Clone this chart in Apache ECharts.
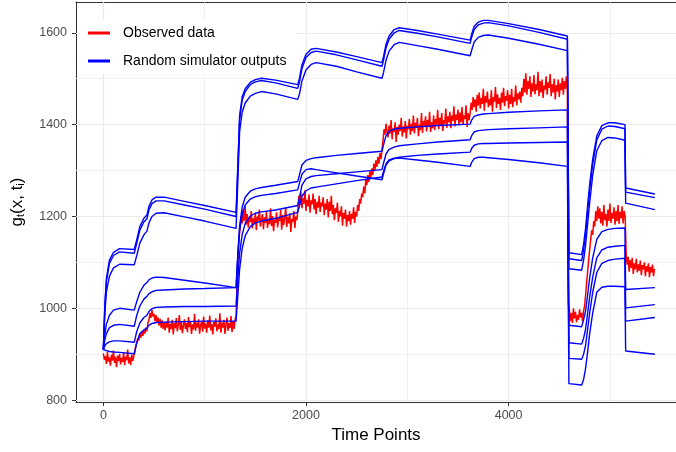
<!DOCTYPE html>
<html>
<head>
<meta charset="utf-8">
<script src="https://cdn.jsdelivr.net/npm/echarts@6/dist/echarts.min.js"></script>
<style>
  html, body { margin: 0; padding: 0; background: #fff; }
  #chart { width: 676px; height: 452px; }
</style>
</head>
<body>
<div id="chart"></div>
<script>
// observed data, one value every 10 time points from t = 0
const obsStep = 10
const obsValues = [
  902, 888, 896, 879, 905, 884, 893, 875, 899, 886, 908, 881, 894, 872, 897, 885,
  901, 878, 892, 883, 904, 876, 895, 887, 910, 880, 893, 877, 899, 885, 896,
  905, 918, 926, 935, 930, 944, 936, 949, 940, 953, 945, 958, 950, 968, 975,
  990, 979, 996, 982, 988, 972, 985, 968, 980, 962, 977, 958, 974, 955, 970,
  952, 971, 958, 980, 947, 966, 955, 975, 943, 968,
  957, 979, 950, 964, 985, 953, 970, 946, 962, 976,
  955, 968, 948, 981, 959, 972, 944, 965, 954, 988,
  951, 969, 958, 976, 945, 963, 971, 949, 982, 956,
  967, 947, 974, 958, 984, 952, 966, 943, 970, 960,
  978, 950, 965, 955, 989, 947, 969, 958, 975, 944,
  963, 980, 951, 968, 957, 983, 948, 972, 955, 975,
  985, 1060, 1120, 1155, 1175, 1200, 1185, 1215, 1190, 1222,
  1182, 1205, 1176, 1198, 1188, 1212, 1174, 1196, 1185, 1208,
  1170, 1200, 1191, 1215, 1178, 1193, 1205, 1172, 1198, 1186,
  1210, 1175, 1195, 1183, 1218, 1179, 1201, 1168, 1193, 1186,
  1209, 1176, 1197, 1190, 1214, 1171, 1203, 1181, 1196, 1220,
  1177, 1199, 1185, 1207, 1166, 1195, 1188, 1212, 1175, 1200, 1192,
  1215, 1245, 1225, 1252, 1218, 1240, 1228, 1257, 1212, 1236,
  1222, 1248, 1208, 1235, 1226, 1250, 1215, 1238, 1205, 1232,
  1219, 1245, 1210, 1230, 1222, 1242, 1203, 1228, 1215, 1238,
  1198, 1232, 1212, 1245, 1205, 1225, 1192, 1218, 1208, 1230,
  1188, 1212, 1200, 1222, 1180, 1208, 1195, 1215, 1178, 1203,
  1190, 1212, 1182, 1206, 1195, 1220, 1186, 1210, 1200, 1225,
  1212, 1238, 1228, 1250, 1242, 1265, 1250, 1280, 1268, 1290,
  1275, 1298, 1285, 1305, 1290, 1315, 1300, 1322, 1308, 1330,
  1315, 1338, 1325, 1345, 1365, 1390, 1378, 1402, 1385,
  1372, 1398, 1380, 1410, 1368, 1392, 1384, 1405, 1362, 1395,
  1378, 1400, 1386, 1415, 1374, 1396, 1383, 1408, 1370, 1398,
  1390, 1412, 1378, 1402, 1386, 1420, 1381, 1404, 1393, 1415,
  1375, 1400, 1388, 1425, 1382, 1408, 1396, 1418, 1385, 1410,
  1395, 1428, 1384, 1405, 1392, 1420, 1388, 1412, 1400, 1432,
  1390, 1415, 1398, 1425, 1386, 1410, 1402, 1435, 1393, 1418,
  1405, 1428, 1392, 1420, 1408, 1440, 1396, 1422, 1410, 1433,
  1398, 1426, 1405, 1438, 1400, 1420, 1412, 1442, 1395, 1425, 1410,
  1425, 1448, 1432, 1460, 1438, 1455, 1428, 1465, 1442, 1470,
  1435, 1458, 1445, 1478, 1430, 1462, 1448, 1472, 1438, 1455,
  1442, 1475, 1428, 1460, 1450, 1482, 1436, 1466, 1445, 1458,
  1432, 1470, 1448, 1480, 1440, 1462, 1452, 1475, 1435, 1465,
  1445, 1478, 1438, 1460, 1450, 1485, 1442, 1468, 1455, 1472,
  1448, 1480, 1462, 1500, 1470, 1512, 1465, 1495, 1478, 1505,
  1460, 1490, 1472, 1508, 1466, 1488, 1475, 1515, 1462, 1495,
  1470, 1498, 1458, 1485, 1476, 1505, 1465, 1492, 1480, 1510,
  1462, 1488, 1470, 1500, 1455, 1486, 1472, 1498, 1460, 1490,
  1475, 1502, 1465, 1495, 1478, 1505, 1470,
  1010, 995, 972, 990, 968, 1000, 978, 992, 970, 985, 975, 998, 980, 990, 972, 995, 1005,
  1030, 1055, 1080, 1105, 1128, 1150, 1170, 1160, 1190, 1178, 1212, 1190, 1222, 1195,
  1218, 1185, 1210, 1180, 1225, 1192, 1205, 1178, 1215, 1190,
  1228, 1186, 1208, 1195, 1220, 1182, 1212, 1190, 1225, 1184,
  1210, 1196, 1222, 1185, 1212, 1200,
  1120, 1095, 1112, 1080, 1105, 1088, 1110, 1075, 1098, 1085, 1108, 1078, 1096, 1082, 1104,
  1072, 1094, 1085, 1100, 1070, 1092, 1080, 1098, 1068, 1090, 1078, 1095, 1070, 1086
]

// simulator runs share one time grid
const simTimes = [
  0, 15, 30, 60, 100, 160, 305,
  330, 360, 400, 430, 450, 480, 520, 600, 800, 1000, 1310,
  1325, 1345, 1370, 1400, 1450, 1500, 1560, 1700, 1918,
  1935, 1960, 2000, 2050, 2100, 2300, 2500, 2750,
  2765, 2790, 2820, 2870, 2920, 3100, 3300, 3620,
  3635, 3660, 3700, 3750, 3800, 4000, 4300, 4580,
  4595, 4721,
  4740, 4760, 4780, 4800, 4830, 4870, 4920, 4980, 5050, 5148,
  5155, 5443
]
const simRun1 = [
  910, 1010, 1065, 1105, 1122, 1130, 1128,
  1150, 1178, 1196, 1203, 1222, 1236, 1242, 1242, 1233, 1224, 1209,
  1300, 1420, 1460, 1478, 1492, 1498, 1501, 1497, 1487,
  1500, 1530, 1553, 1564, 1566, 1558, 1548, 1535,
  1548, 1575, 1593, 1607, 1611, 1605, 1597, 1584,
  1597, 1614, 1623, 1627, 1627, 1620, 1607, 1593,
  1121, 1117,
  1140, 1175, 1225, 1270, 1325, 1375, 1398, 1404, 1404, 1400,
  1262, 1249
]
const simRun2 = [
  910, 1005, 1058, 1098, 1115, 1123, 1120,
  1142, 1170, 1188, 1195, 1214, 1228, 1234, 1234, 1225, 1216, 1200,
  1290, 1412, 1453, 1472, 1487, 1493, 1496, 1491, 1479,
  1492, 1522, 1546, 1557, 1560, 1552, 1541, 1527,
  1540, 1567, 1586, 1600, 1605, 1599, 1591, 1577,
  1590, 1607, 1617, 1621, 1622, 1615, 1601, 1586,
  1108, 1104,
  1127, 1162, 1212, 1258, 1314, 1366, 1390, 1397, 1396, 1391,
  1253, 1241
]
const simRun3 = [
  910, 990, 1035, 1070, 1088, 1096, 1095,
  1115, 1142, 1160, 1168, 1186, 1200, 1207, 1208, 1199, 1190, 1174,
  1262, 1385, 1427, 1447, 1462, 1468, 1472, 1467, 1455,
  1466, 1495, 1519, 1531, 1535, 1527, 1515, 1501,
  1513, 1540, 1560, 1574, 1579, 1572, 1564, 1550,
  1562, 1580, 1590, 1594, 1595, 1588, 1575, 1561,
  1086, 1083,
  1105, 1138, 1185, 1230, 1290, 1343, 1365, 1372, 1371, 1366,
  1229, 1215
]
const simRun4 = [
  910, 932, 945, 958, 963, 965, 961,
  985, 1005, 1020, 1026, 1032, 1036, 1039, 1040, 1042, 1043, 1045,
  1110, 1180, 1220, 1242, 1255, 1260, 1263, 1268, 1276,
  1290, 1312, 1322, 1326, 1328, 1333, 1337, 1342,
  1356, 1376, 1386, 1390, 1392, 1395, 1398, 1401,
  1410, 1418, 1421, 1423, 1424, 1427, 1430, 1432,
  963, 960,
  975, 995, 1030, 1066, 1110, 1150, 1167, 1172, 1174, 1175,
  1041, 1045
]
const simRun5 = [
  910, 945, 965, 985, 996, 1000, 996,
  1015, 1035, 1050, 1056, 1062, 1066, 1068, 1067, 1061, 1055, 1045,
  1105, 1170, 1205, 1225, 1238, 1243, 1246, 1250, 1258,
  1272, 1292, 1302, 1304, 1302, 1295, 1288, 1280,
  1293, 1312, 1321, 1326, 1327, 1323, 1318, 1309,
  1318, 1326, 1329, 1329, 1328, 1324, 1317, 1309,
  836, 833,
  845, 870, 905, 945, 990, 1035, 1046, 1048, 1048, 1047,
  907, 900
]
const simRun6 = [
  910, 918, 923, 927, 929, 929, 926,
  950, 968, 980, 985, 993, 999, 1002, 1003, 1004, 1004, 1005,
  1060, 1120, 1160, 1185, 1201, 1207, 1210, 1214, 1224,
  1240, 1268, 1282, 1287, 1289, 1293, 1297, 1302,
  1316, 1336, 1346, 1351, 1354, 1358, 1362, 1367,
  1376, 1384, 1387, 1388, 1389, 1391, 1393, 1395,
  925, 922,
  935, 955, 990, 1025, 1068, 1110, 1127, 1133, 1135, 1137,
  1001, 1008
]
const simRun7 = [
  910, 909, 908, 906, 905, 904, 901,
  925, 945, 953, 957, 963, 967, 969, 970, 971, 972, 972,
  1020, 1085, 1130, 1158, 1178, 1186, 1190, 1196, 1209,
  1222, 1244, 1256, 1262, 1264, 1271, 1278, 1286,
  1298, 1315, 1323, 1327, 1329, 1333, 1336, 1340,
  1348, 1355, 1358, 1359, 1359, 1360, 1361, 1362,
  891, 889,
  900, 920, 955, 990, 1035, 1078, 1098, 1104, 1107, 1109,
  972, 980
]
const simRuns = [simRun1, simRun2, simRun3, simRun4, simRun5, simRun6, simRun7]

// axis breaks
const xTicks = [0, 2000, 4000]
const xMinor = [1000, 3000, 5000]
const yTicks = [800, 1000, 1200, 1400, 1600]
const yMinor = [900, 1100, 1300, 1500]

const font = '"Liberation Sans", Arial, sans-serif'

const chart = echarts.init(document.getElementById('chart'))

const obsData = obsValues.map((v, i) => [i * obsStep, v])

const gridLines = [
  ...xMinor.map(v => ({ xAxis: v, lineStyle: { width: 0.7 } })),
  ...yMinor.map(v => ({ yAxis: v, lineStyle: { width: 0.7 } })),
  ...xTicks.map(v => ({ xAxis: v, lineStyle: { width: 1.2 } })),
  ...yTicks.map(v => ({ yAxis: v, lineStyle: { width: 1.2 } }))
]

const series = [{
  name: 'Observed data',
  type: 'line',
  data: obsData,
  symbol: 'none',
  lineStyle: { color: '#ff0000', width: 1.5 },
  itemStyle: { color: '#ff0000' },
  z: 2,
  markLine: {
    silent: true,
    symbol: ['none', 'none'],
    z: 1,
    label: { show: false },
    lineStyle: { type: 'solid', color: '#ebebeb' },
    data: gridLines
  }
}]
simRuns.forEach(run => {
  series.push({
    name: 'Random simulator outputs',
    type: 'line',
    data: simTimes.map((t, i) => [t, run[i]]),
    symbol: 'none',
    lineStyle: { color: '#0000ff', width: 1.4 },
    itemStyle: { color: '#0000ff' },
    z: 3
  })
})

const plain = v => String(v)

const option = {
  animation: false,
  textStyle: { fontFamily: font },
  grid: { left: 76, right: -2, top: 2, bottom: 50 },
  legend: {
    orient: 'vertical',
    left: 80, top: 20,
    padding: [5, 10, 5, 8],
    backgroundColor: '#fff',
    itemWidth: 22, itemHeight: 3,
    itemGap: 12,
    icon: 'rect',
    textStyle: { fontSize: 14, lineHeight: 16, color: '#000', padding: [0, 0, 0, 8], fontFamily: font },
    data: ['Observed data', 'Random simulator outputs']
  },
  xAxis: [{
    type: 'value',
    min: -270, max: 5652,
    axisLine: { show: true, onZero: false, lineStyle: { color: '#333', width: 1 } },
    splitLine: { show: false },
    axisTick: { show: true, length: 4, lineStyle: { color: '#333' }, customValues: xTicks },
    axisLabel: { customValues: xTicks, formatter: plain, color: '#4d4d4d', fontSize: 12.5, margin: 7, fontFamily: font },
    name: 'Time Points',
    nameLocation: 'middle',
    nameGap: 22,
    nameTextStyle: { fontSize: 17, color: '#000', fontFamily: font }
  }, {
    type: 'value',
    position: 'top',
    min: -270, max: 5652,
    axisLine: { show: true, onZero: false, lineStyle: { color: '#333', width: 1 } },
    splitLine: { show: false },
    axisTick: { show: false },
    axisLabel: { show: false }
  }],
  yAxis: {
    type: 'value',
    position: 'left',
    min: 796, max: 1667,
    axisLine: { show: true, onZero: false, lineStyle: { color: '#333', width: 1 } },
    splitLine: { show: false },
    axisTick: { show: true, length: 4, lineStyle: { color: '#333' }, customValues: yTicks },
    axisLabel: { customValues: yTicks, formatter: plain, color: '#4d4d4d', fontSize: 12.5, margin: 9, fontFamily: font },
    name: '{m|g}{s|t}{m|(x, t}{s|i}{m|)}',
    nameLocation: 'middle',
    nameGap: 50,
    nameTextStyle: {
      color: '#000',
      rich: {
        m: { fontSize: 17, lineHeight: 22, verticalAlign: 'bottom', fontFamily: font, color: '#000' },
        s: { fontSize: 11, lineHeight: 14, verticalAlign: 'bottom', padding: [6, 0, 0, 0], fontFamily: font, color: '#000' }
      }
    }
  },
  series: series
}

chart.setOption(option)
</script>
</body>
</html>
